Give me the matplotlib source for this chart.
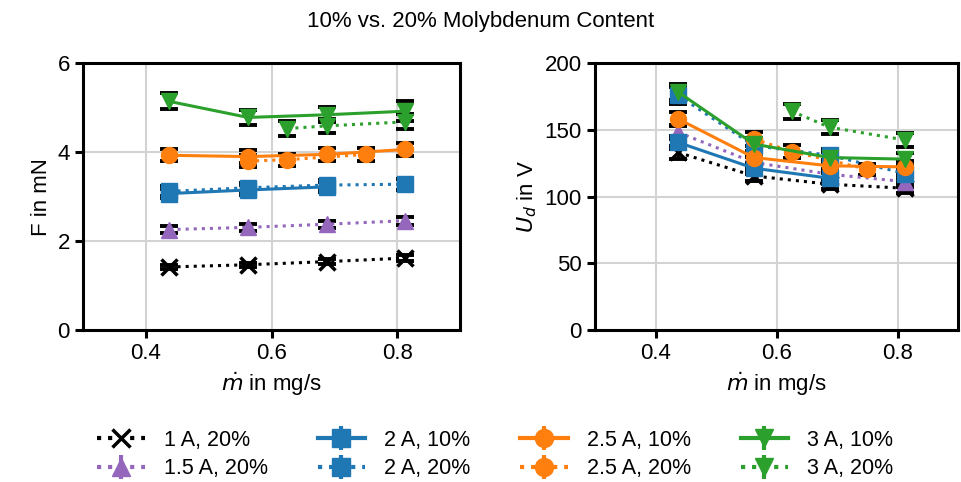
import numpy as np
import matplotlib.pyplot as plt
from matplotlib.lines import Line2D
from matplotlib.legend_handler import HandlerTuple

plt.rcParams['font.family'] = ['Liberation Sans', 'DejaVu Sans']
plt.rcParams['mathtext.fontset'] = 'dejavusans'

# mass flow in mg/s
m_dot = {
    '1 A, 20%':   [0.4375, 0.5625, 0.6875, 0.8125],
    '1.5 A, 20%': [0.4375, 0.5625, 0.6875, 0.8125],
    '2 A, 10%':   [0.4375, 0.5625, 0.6875],
    '2 A, 20%':   [0.4375, 0.5625, 0.6875, 0.8125],
    '2.5 A, 10%': [0.4375, 0.5625, 0.6875, 0.8125],
    '2.5 A, 20%': [0.5625, 0.625, 0.75],
    '3 A, 10%':   [0.4375, 0.5625, 0.6875, 0.8125],
    '3 A, 20%':   [0.625, 0.6875, 0.8125],
}

# thrust in mN
thrust = {
    '1 A, 20%':   [1.42, 1.47, 1.54, 1.62],
    '1.5 A, 20%': [2.26, 2.31, 2.38, 2.46],
    '2 A, 10%':   [3.07, 3.15, 3.22],
    '2 A, 20%':   [3.12, 3.20, 3.26, 3.28],
    '2.5 A, 10%': [3.93, 3.90, 3.95, 4.06],
    '2.5 A, 20%': [3.80, 3.83, 3.95],
    '3 A, 10%':   [5.14, 4.78, 4.84, 4.92],
    '3 A, 20%':   [4.53, 4.59, 4.68],
}
thrust_err = {
    '1 A, 20%':   [0.05, 0.05, 0.05, 0.06],
    '1.5 A, 20%': [0.08, 0.08, 0.08, 0.09],
    '2 A, 10%':   [0.11, 0.11, 0.11],
    '2 A, 20%':   [0.11, 0.11, 0.11, 0.12],
    '2.5 A, 10%': [0.14, 0.14, 0.14, 0.14],
    '2.5 A, 20%': [0.13, 0.13, 0.14],
    '3 A, 10%':   [0.18, 0.17, 0.17, 0.22],
    '3 A, 20%':   [0.16, 0.16, 0.17],
}

# discharge voltage in V
voltage = {
    '1 A, 20%':   [133.1, 115.5, 109.3, 106.3],
    '1.5 A, 20%': [148.2, 125.6, 116.8, 111.2],
    '2 A, 10%':   [140.6, 121.3, 113.8],
    '2 A, 20%':   [175.8, 138.2, 131.0, 117.3],
    '2.5 A, 10%': [158.2, 129.3, 123.1, 122.3],
    '2.5 A, 20%': [143.2, 133.8, 120.6],
    '3 A, 10%':   [178.3, 139.4, 129.3, 128.1],
    '3 A, 20%':   [164.0, 152.0, 142.4],
}
voltage_err = {
    '1 A, 20%':   [4.7, 4.0, 3.8, 3.7],
    '1.5 A, 20%': [5.2, 4.4, 4.1, 3.9],
    '2 A, 10%':   [4.9, 4.2, 4.0],
    '2 A, 20%':   [6.2, 4.8, 4.6, 4.1],
    '2.5 A, 10%': [5.5, 4.5, 4.3, 4.3],
    '2.5 A, 20%': [5.0, 4.7, 4.2],
    '3 A, 10%':   [6.2, 4.9, 4.5, 4.5],
    '3 A, 20%':   [5.7, 5.3, 5.0],
}

styles = {
    '1 A, 20%':   ('k', 'x', ':'),
    '1.5 A, 20%': ('tab:purple', '^', ':'),
    '2 A, 10%':   ('tab:blue', 's', '-'),
    '2 A, 20%':   ('tab:blue', 's', ':'),
    '2.5 A, 10%': ('tab:orange', 'o', '-'),
    '2.5 A, 20%': ('tab:orange', 'o', ':'),
    '3 A, 10%':   ('tab:green', 'v', '-'),
    '3 A, 20%':   ('tab:green', 'v', ':'),
}

FS = 16

fig = plt.figure(figsize=(9.62, 4.82), dpi=100)
ax1 = fig.add_axes([0.0863, 0.315, 0.392, 0.554])
ax2 = fig.add_axes([0.6185, 0.315, 0.3775, 0.554])


def draw(ax, ydata, yerr):
    for name, (c, mk, ls) in styles.items():
        mew = 2.5 if mk == 'x' else 1
        eb = ax.errorbar(m_dot[name], ydata[name], yerr=yerr[name], color=c,
                         ls=ls, lw=2.2, marker=mk, ms=11.5, mew=mew,
                         elinewidth=2, capsize=6.5, zorder=3)
        # black caps, kept just under the markers
        for cap in eb[1]:
            cap.set_color('k')
            cap.set_markeredgecolor('k')
            cap.set_markeredgewidth(2.8)
            cap.set_zorder(3.05)
    ax.set_xlim(0.3, 0.9)
    ax.set_xticks([0.4, 0.6, 0.8])
    ax.grid(True, color='#d3d3d3', lw=1.5)
    ax.set_axisbelow(True)
    for sp in ax.spines.values():
        sp.set_linewidth(2.2)
    ax.tick_params(labelsize=FS, width=2.2, length=6)
    ax.set_xlabel(r'$\dot{m}$ in mg/s', fontsize=FS)


draw(ax1, thrust, thrust_err)
ax1.set_ylim(0, 6)
ax1.set_yticks([0, 2, 4, 6])
ax1.set_ylabel('F in mN', fontsize=FS)

draw(ax2, voltage, voltage_err)
ax2.set_ylim(0, 200)
ax2.set_yticks([0, 50, 100, 150, 200])
ax2.set_ylabel(r'$U_d$ in V', fontsize=FS)

fig.suptitle('10% vs. 20% Molybdenum Content', fontsize=FS, y=0.978)

handles = []
for name, (c, mk, ls) in styles.items():
    mew = 2.5 if mk == 'x' else 1
    line = Line2D([], [], color=c, ls=ls, lw=3, marker=mk, ms=13, mew=mew)
    if mk == 'x':
        handles.append(line)
    else:
        bar = Line2D([], [], color=c, marker='|', ms=17, mew=3, ls='none')
        handles.append((bar, line))
fig.legend(handles, list(styles.keys()), handler_map={tuple: HandlerTuple(ndivide=1)},
           loc='lower center', bbox_to_anchor=(0.515, -0.035), ncol=4, frameon=False,
           fontsize=FS - 0.5, handlelength=2.2, handletextpad=0.9,
           columnspacing=2.3, labelspacing=0.35)

fig.savefig('out.png', dpi=100)
